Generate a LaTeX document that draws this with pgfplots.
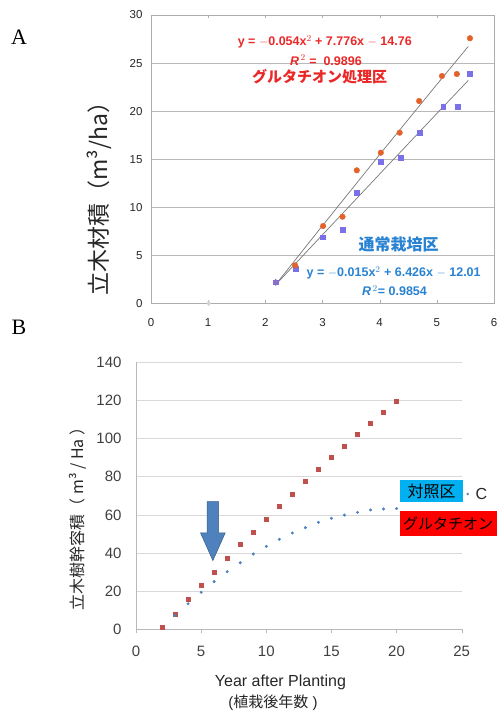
\documentclass[border=0pt]{standalone}
\usepackage{pgfplots}
\pgfplotsset{compat=1.18}
\usepackage{fontspec}
\setmainfont{Liberation Sans}
\newfontfamily\jp{Noto Sans CJK JP}
\newfontfamily\serifA{Liberation Serif}
\definecolor{aorange}{RGB}{228,98,42}
\definecolor{ablue}{RGB}{122,112,232}
\definecolor{ared}{RGB}{235,40,40}
\definecolor{atxtblue}{RGB}{40,130,210}
\definecolor{bred}{RGB}{192,80,77}
\definecolor{bblue}{RGB}{79,129,189}
\definecolor{arrowedge}{RGB}{56,93,138}
\definecolor{cyanbox}{RGB}{0,176,240}
\definecolor{trend}{RGB}{120,120,120}
\begin{document}
\begin{tikzpicture}[x=1pt,y=1pt]
\useasboundingbox (0,0) rectangle (497,713);
% panel letters
\node[font=\serifA\fontsize{22}{22}\selectfont] at (19,676) {A};
\node[font=\serifA\fontsize{22}{22}\selectfont] at (19,386) {B};
% ---------------- Panel A ----------------
\begin{axis}[at={(151pt,409.7pt)}, anchor=south west, scale only axis,
  width=343pt, height=288.3pt,
  xmin=0, xmax=6, ymin=0, ymax=30,
  xtick={0,1,2,3,4,5,6}, ytick={0,5,10,15,20,25,30},
  ymajorgrids, grid style={draw=gray!55, line width=0.6pt},
  axis line style={draw=gray!65, line width=0.7pt},
  xtick style={draw=gray!65}, major tick length=3pt, ytick style={draw=none},
  tick align=inside,
  /pgf/number format/assume math mode=true,
  tick label style={font=\fontsize{11.5}{13}\selectfont, text=black!85},
  xticklabel style={yshift=-12pt},
  yticklabel style={xshift=-5pt},
  clip=false]
\addplot[trend, line width=0.7pt] coordinates {(2.2,2.09) (3,8.08) (4,15.48) (5,22.77) (5.55,26.73)};
\addplot[trend, line width=0.7pt] coordinates {(2.2,2.05) (3,7.13) (4,13.45) (5,19.75) (5.55,23.19)};
\addplot[only marks, mark=diamond*, mark size=2.5pt, color=gray!35] coordinates {(1.01,0)};
\addplot[only marks, mark=square*, mark size=2.4pt, color=ablue] coordinates {
(2.18,2.19) (2.53,3.60) (3.01,6.87) (3.35,7.63) (3.60,11.55) (4.02,14.73) (4.37,15.12) (4.70,17.79) (5.11,20.46) (5.36,20.46) (5.58,23.93)};
\addplot[only marks, mark=*, mark size=2.8pt, color=aorange] coordinates {
(2.52,3.95) (3.01,8.04) (3.35,9.01) (3.60,13.84) (4.02,15.67) (4.35,17.75) (4.69,21.05) (5.09,23.65) (5.35,23.86) (5.58,27.58)};
\addplot[only marks, mark=diamond*, mark size=3.2pt, color=ablue!80!aorange] coordinates {(2.18,2.19)};
\node[text=ared, font=\bfseries\fontsize{12.5}{14}\selectfont] at (axis cs:3.04,27.2) {y = $-$0.054x$^{2}$ + 7.776x $-$ 14.76};
\node[text=ared, font=\bfseries\fontsize{12.5}{14}\selectfont] at (axis cs:3.06,25.3) {\textit{R}$^{\,2}$ =\ \ 0.9896};
\node[text=ared, font=\jp\bfseries\fontsize{15}{17}\selectfont] at (axis cs:2.95,23.6) {グルタチオン処理区};
\node[text=atxtblue, font=\jp\bfseries\fontsize{16}{18}\selectfont] at (axis cs:4.33,6.17) {通常栽培区};
\node[text=atxtblue, font=\bfseries\fontsize{12.5}{14}\selectfont] at (axis cs:4.245,3.18) {y = $-$0.015x$^{2}$ + 6.426x $-$ 12.01};
\node[text=atxtblue, font=\bfseries\fontsize{12.5}{14}\selectfont] at (axis cs:4.26,1.31) {\textit{R}$^{\,2}$= 0.9854};
\end{axis}
\node[rotate=90, font=\jp\fontsize{23}{25}\selectfont, text=black!85] at (99,520) {立木材積（m³/ha）};
% ---------------- Panel B ----------------
\begin{axis}[at={(136pt,83.7pt)}, anchor=south west, scale only axis,
  width=325.7pt, height=267pt,
  xmin=0, xmax=25, ymin=0, ymax=140,
  xtick={0,5,10,15,20,25}, ytick={0,20,40,60,80,100,120,140},
  axis x line=bottom, axis y line=left,
  axis line style={-, draw=gray!55, line width=0.6pt},
  ymajorgrids, grid style={draw=gray!30, line width=0.7pt},
  xtick style={draw=gray!55}, ytick style={draw=none},
  tick align=outside, major tick length=4pt,
  /pgf/number format/assume math mode=true,
  tick label style={font=\fontsize{15}{17}\selectfont, text=black!75},
  xticklabel style={yshift=-9pt},
  yticklabel style={xshift=-7pt},
  clip=false]
\addplot[only marks, mark=square*, mark size=2pt, color=bred] coordinates {
(2,0.9) (3,8.0) (4,15.7) (5,23.1) (6,30.2) (7,37.4) (8,44.4) (9,51.0) (10,57.8) (11,64.5) (12,71.1) (13,77.6) (14,83.9) (15,90.0) (16,96.1) (17,102.2) (18,108.2) (19,114.0) (20,119.7)};
\addplot[only marks, mark=*, mark size=1.3pt, color=bblue] coordinates {
(3,7.3) (4,13.4) (5,19.4) (6,25.0) (7,30.2) (8,34.9) (9,39.5) (10,43.5) (11,47.2) (12,50.5) (13,53.3) (14,56.1) (15,58.2) (16,59.9) (17,61.3) (18,62.6) (19,63.1) (20,63.3)};
\fill[bblue, draw=arrowedge, line width=0.5pt] (axis cs:5.45,66.9) -- (axis cs:6.35,66.9) -- (axis cs:6.35,50.6) -- (axis cs:6.85,50.6) -- (axis cs:5.9,36) -- (axis cs:4.95,50.6) -- (axis cs:5.45,50.6) -- cycle;
\end{axis}
\node[rotate=90, font=\jp\fontsize{16}{18}\selectfont, text=black!85] at (78,198) {立木樹幹容積（ m³ / Ha ）};
\node[font=\fontsize{16}{18}\selectfont, text=black!85] at (280.5,31) {Year after Planting};
\node[font=\fontsize{15}{17}\selectfont, text=black!85] at (273,10) {(\jp 植栽後年数\rmfamily\ )};
% legend boxes
\fill[cyanbox] (400,211) rectangle (463,233);
\node[font=\jp\fontsize{16}{18}\selectfont, text=black] at (431.5,222) {対照区};
\fill[bblue] (467.7,219) circle (1.3);
\node[font=\fontsize{16}{18}\selectfont, text=black!85] at (481.5,219) {C};
\fill[red] (400,177) rectangle (505,202);
\node[anchor=west, inner sep=0pt, font=\jp\fontsize{15}{17}\selectfont, text=black] at (403,189.5) {グルタチオン};
\end{tikzpicture}
\end{document}
